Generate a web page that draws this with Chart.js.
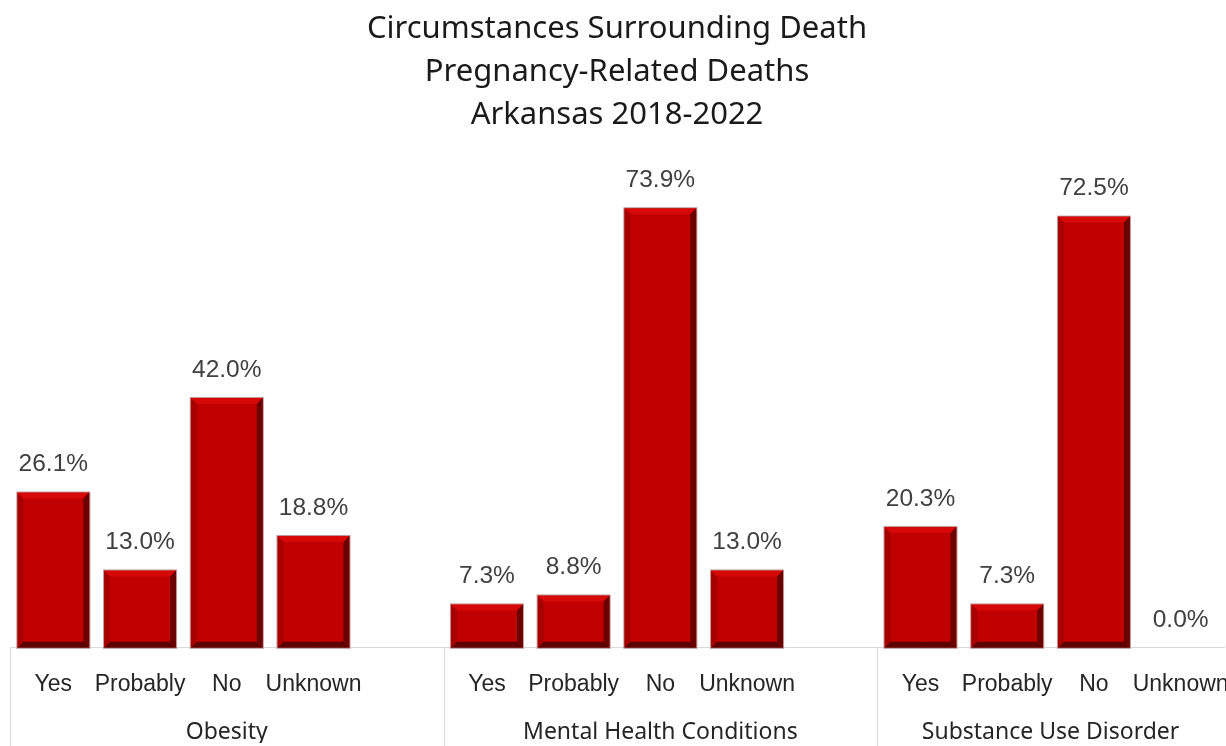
<!DOCTYPE html>
<html>
<head>
<meta charset="utf-8">
<script src="https://cdn.jsdelivr.net/npm/chart.js@4/dist/chart.umd.min.js"></script>
<style>
  html, body { margin: 0; padding: 0; background: #fff; overflow: hidden; }
  #wrap { position: relative; width: 1226px; height: 746px; overflow: hidden; }
  #box { position: absolute; left: 0; top: 0; width: 1236px; height: 752px; }
</style>
</head>
<body>
<div id="wrap">
  <div id="box"><canvas id="grafico"></canvas></div>
</div>
<script>
// Datos (porcentajes)
const grupos = ['Obesity', 'Mental Health Conditions', 'Substance Use Disorder'];
const respuestas = ['Yes', 'Probably', 'No', 'Unknown'];
const obesidad = [26.1, 13.0, 42.0, 18.8];
const saludMental = [7.3, 8.8, 73.9, 13.0];
const sustancias = [20.3, 7.3, 72.5, 0.0];

// Categorías con un hueco vacío entre grupos
const etiquetas = [];
const valores = [];
const centros = [];    // centro de cada grupo (en índice de categoría)
const limites = [];    // borde izquierdo de cada grupo
[obesidad, saludMental, sustancias].forEach((serie, g) => {
    if (g > 0) {
        etiquetas.push('');
        valores.push(null);
    }
    const inicio = etiquetas.length;
    limites.push(inicio - 0.5);
    respuestas.forEach((r, i) => {
        etiquetas.push(r);
        valores.push(serie[i]);
    });
    const fin = etiquetas.length - 1;
    centros.push(g < 2 ? (inicio + fin + 1) / 2 : (inicio + fin) / 2);
});

// Eje de grupos: una marca cada media categoría
const etiquetasGrupo = new Array(etiquetas.length * 2 + 1).fill('');
centros.forEach((c, g) => { etiquetasGrupo[Math.round((c + 0.5) * 2)] = grupos[g]; });
const marcasLimite = limites.map(l => Math.round((l + 0.5) * 2));

// Bisel de las barras, etiquetas de valor y separadores
const biselPlugin = {
    id: 'bisel',
    afterDatasetsDraw(chart) {
        const ctx = chart.ctx;
        const meta = chart.getDatasetMeta(0);
        ctx.save();
        meta.data.forEach((bar, i) => {
            const v = valores[i];
            if (v === null) return;
            const p = bar.getProps(['x', 'y', 'base', 'width'], true);
            const l = p.x - p.width / 2, r = p.x + p.width / 2;
            const t = p.y, b = p.base;
            const s = Math.min(6, (b - t) / 2);
            if (b - t > 1) {
                const lado = (pts, color) => {
                    ctx.beginPath();
                    ctx.moveTo(pts[0][0], pts[0][1]);
                    pts.slice(1).forEach(q => ctx.lineTo(q[0], q[1]));
                    ctx.closePath();
                    ctx.fillStyle = color;
                    ctx.fill();
                };
                lado([[l, t], [r, t], [r - s, t + s], [l + s, t + s]], '#d60808');
                lado([[l, t], [l + s, t + s], [l + s, b - s], [l, b]], '#a80000');
                lado([[r, t], [r, b], [r - s, b - s], [r - s, t + s]], '#6a0000');
                lado([[l, b], [l + s, b - s], [r - s, b - s], [r, b]], '#5c0000');
                ctx.strokeStyle = 'rgba(150,80,80,0.6)';
                ctx.lineWidth = 1;
                ctx.strokeRect(l - 0.5, t - 0.5, r - l + 1, b - t + 1);
            }
            ctx.fillStyle = '#404040';
            ctx.font = '24.5px "Liberation Sans", Arial, sans-serif';
            ctx.textAlign = 'center';
            ctx.textBaseline = 'middle';
            ctx.fillText(v.toFixed(1) + '%', p.x, t - 28);
        });
        const x2 = chart.scales.x2;
        ctx.strokeStyle = '#d9d9d9';
        ctx.lineWidth = 1;
        marcasLimite.forEach(m => {
            const xs = Math.round(x2.getPixelForValue(m)) + 0.5;
            ctx.beginPath();
            ctx.moveTo(xs, chart.chartArea.bottom);
            ctx.lineTo(xs, chart.height);
            ctx.stroke();
        });
        ctx.restore();
    }
};

const ctx = document.getElementById('grafico').getContext('2d');
new Chart(ctx, {
    type: 'bar',
    data: {
        labels: etiquetas,
        datasets: [{
            data: valores,
            backgroundColor: '#c00000',
            borderWidth: 0,
            barPercentage: 0.83,
            categoryPercentage: 1.0,
        }],
    },
    options: {
        responsive: true,
        maintainAspectRatio: false,
        animation: false,
        layout: { padding: { left: 10, right: 12, top: 0, bottom: 9 } },
        plugins: {
            legend: { display: false },
            tooltip: { enabled: false },
            title: {
                display: true,
                text: ['Circumstances Surrounding Death', 'Pregnancy-Related Deaths', 'Arkansas 2018-2022'],
                color: '#1a1a1a',
                font: { family: '"Noto Sans", sans-serif', size: 31, weight: 'normal', lineHeight: '43px' },
                padding: { top: 8, bottom: 35 },
            },
        },
        scales: {
            y: { display: false, min: 0, max: 80 },
            x: {
                position: 'bottom',
                grid: { display: false, drawTicks: false },
                border: { display: true, color: '#d9d9d9', width: 1 },
                afterFit: (scale) => { scale.paddingLeft = 0; scale.paddingRight = 0; },
                ticks: {
                    padding: 23,
                    maxRotation: 0,
                    autoSkip: false,
                    color: '#262626',
                    font: { family: '"Liberation Sans", Arial, sans-serif', size: 23 },
                },
            },
            x2: {
                type: 'category',
                labels: etiquetasGrupo,
                position: 'bottom',
                offset: false,
                grid: { display: false, drawTicks: false, offset: false },
                border: { display: false },
                afterFit: (scale) => { scale.paddingLeft = 0; scale.paddingRight = 0; },
                ticks: {
                    padding: -3,
                    maxRotation: 0,
                    autoSkip: false,
                    color: '#262626',
                    font: { family: '"Noto Sans", sans-serif', size: 23 },
                },
            },
        },
    },
    plugins: [biselPlugin],
});
</script>
</body>
</html>
